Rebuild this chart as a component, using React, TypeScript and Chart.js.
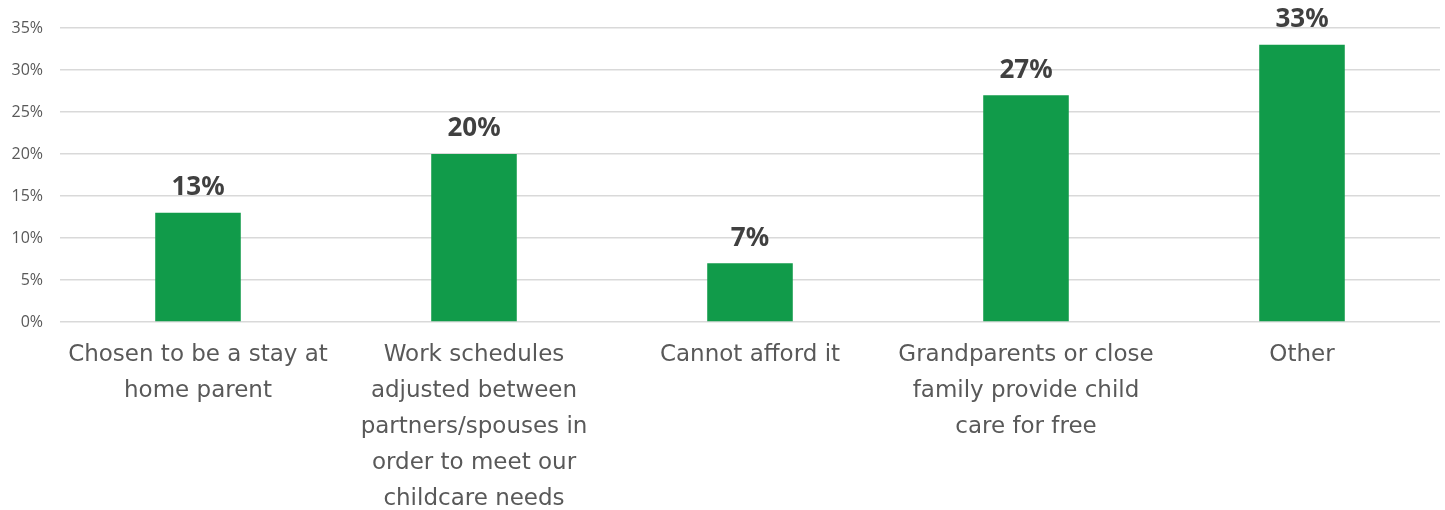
import React, { useEffect, useRef } from "react";
import { Chart, registerables } from "chart.js";

Chart.register(...registerables);

const categories: string[][] = [
  ["Chosen to be a stay at", "home parent"],
  ["Work schedules", "adjusted between", "partners/spouses in", "order to meet our", "childcare needs"],
  ["Cannot afford it"],
  ["Grandparents or close", "family provide child", "care for free"],
  ["Other"],
];
const values: number[] = [13, 20, 7, 27, 33];
const yTicks: number[] = [0, 5, 10, 15, 20, 25, 30, 35];

const barLabelPlugin = {
  id: "barLabels",
  afterDatasetsDraw(chart: any) {
    const ctx = chart.ctx;
    const meta = chart.getDatasetMeta(0);
    ctx.save();
    ctx.font = "bold 26px 'Noto Sans', sans-serif";
    ctx.fillStyle = "#404040";
    ctx.textAlign = "center";
    ctx.textBaseline = "middle";
    meta.data.forEach((el: any, i: number) => {
      ctx.fillText(values[i] + "%", el.x, el.y - 25);
    });
    ctx.restore();
  },
};

export default function App() {
  const ref = useRef<HTMLCanvasElement>(null);
  useEffect(() => {
    document.body.style.margin = "0";
    const chart = new Chart(ref.current!, {
      type: "bar",
      data: {
        labels: categories,
        datasets: [
          {
            data: values,
            backgroundColor: "#119B4A",
            barPercentage: 0.62,
            categoryPercentage: 0.5,
          },
        ],
      },
      options: {
        animation: false,
        responsive: false,
        maintainAspectRatio: false,
        layout: { padding: { top: 28, right: 5, left: 0, bottom: 0 } },
        plugins: { legend: { display: false }, tooltip: { enabled: false } },
        scales: {
          x: {
            afterFit(scale: any) {
              scale.height = 188;
            },
            grid: { display: false, drawTicks: false },
            border: { display: false },
            ticks: {
              padding: 15,
              color: "#595959",
              maxRotation: 0,
              autoSkip: false,
              font: { family: "'DejaVu Sans', sans-serif", size: 23, lineHeight: 1.565 },
            },
          },
          y: {
            min: 0,
            max: 35,
            afterFit(scale: any) {
              scale.width = 60;
            },
            afterBuildTicks(scale: any) {
              scale.ticks = yTicks.map((v) => ({ value: v }));
            },
            grid: { color: "#d9d9d9", lineWidth: 1.5, drawTicks: false },
            border: { display: false },
            ticks: {
              padding: 17,
              color: "#595959",
              font: { family: "'Open Sans', sans-serif", size: 16 },
              callback: (v: any) => v + "%",
            },
          },
        },
      },
      plugins: [barLabelPlugin],
    });
    return () => chart.destroy();
  }, []);
  return (
    <div style={{ width: 1445, height: 510, overflow: "hidden" }}>
      <canvas ref={ref} width={1445} height={510} style={{ display: "block" }} />
    </div>
  );
}
